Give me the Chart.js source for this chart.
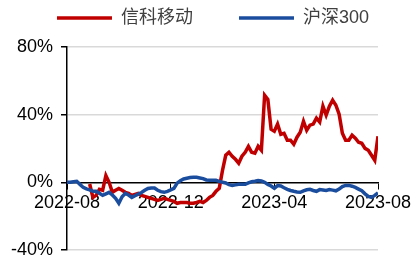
<!DOCTYPE html>
<html>
<head>
<meta charset="utf-8">
<script src="https://cdn.jsdelivr.net/npm/chart.js@4"></script>
<style>
html,body{margin:0;padding:0;background:#fff;}
#wrap{width:412px;height:256px;}
</style>
</head>
<body>
<div id="wrap"><canvas id="chart"></canvas></div>
<script>
// x runs in months from 2022-08, one point every 1/8 month
let tickLabels = ["2022-08", "2022-12", "2023-04", "2023-08"];
let seriesNames = ["信科移动", "沪深300"];

let xinke = [
    null, null, null, null, null, null, null,
    -1.0, -8.9, -7.7,
    -4.1, -4.7, 4.0, 0, -5.9, -4.7, -3.6, -4.7, -5.9, -6.5,
    -7.7, -7.1, -6.5, -7.7, -8.3, -8.9, -9.5, -10.1, -10.7, -10.1,
    -9.5, -10.1, -10.7, -11.3, -12.4, -11.9, -11.9, -11.9, -12.4, -12.4,
    -11.9, -11.3, -11.9, -10.7, -8.9, -7.7, -5.3, -3.6, 7.1, 16.0,
    17.8, 15.4, 13.6, 11.3, 15.4, 17.8, 21.3, 17.8, 17.2, 21.3,
    19.0, 51.5, 49.0, 31.4, 30.2, 34.4, 28.4, 29.0, 24.9, 24.9,
    22.5, 26.7, 29.6, 36.1, 30.8, 33.8, 34.4, 37.9, 35.6, 45.0,
    39.7, 45.0, 48.6, 45.6, 40.3, 29.0, 24.9, 24.9, 27.9, 26.1,
    23.7, 23.1, 20.1, 19.0, 16.0, 13.0, 27.3
];

let hs300 = [
    0, 0, 0.3, 0.6, -1.2, -3.0, -3.9, -4.5, -5.3, -5.3,
    -6.5, -7.7, -6.8, -5.9, -7.5, -9.5, -12.4, -8.5, -6.5, -7.5,
    -8.9, -7.9, -7.0, -6.0, -4.7, -3.6, -3.3, -3.4, -4.7, -5.5,
    -5.9, -5.3, -4.5, -3.6, -0.5, 1.0, 2.0, 2.4, 2.8, 3.0,
    3.0, 2.6, 2.2, 1.4, 1.2, 1.2, 1.2, 0.6, 0, -0.4,
    -1.4, -1.8, -1.5, -1.2, -1.2, -1.2, -0.3, 0.3, 0.6, 1.0,
    0.8, 0, -1.2, -2.2, -3.5, -1.9, -2.2, -3.2, -4.1, -4.8,
    -5.3, -5.7, -5.9, -5.0, -4.4, -4.1, -4.8, -5.3, -4.3, -4.5,
    -4.8, -4.3, -4.6, -5.0, -4.0, -2.5, -1.8, -1.8, -2.3, -3.0,
    -4.0, -5.0, -6.8, -8.3, -8.9, -7.7, -6.2
];

let step = 1 / 8;
let fontFamily = "'Liberation Sans', 'Noto Sans CJK SC', sans-serif";

function toPoints(values){
    return values.map(function(v, i){
        return {x: i * step, y: v};
    });
}

// legend keeps a fixed band above the plot and is nudged into place
const legendPlace = {
    id: "legendPlace",
    afterInit(chart){
        const legend = chart.legend;
        const fit = legend.fit;
        legend.fit = function(){
            fit.call(this);
            this.height = 47;
        };
        const draw = legend.draw;
        legend.draw = function(){
            const box = {left: this.left, right: this.right, top: this.top};
            this.left += 7;
            this.right += 7;
            this.top -= 37;
            draw.call(this);
            Object.assign(this, box);
        };
    }
};

new Chart(document.getElementById("chart"), {
    type: "line",
    data: {
        datasets: [
            {
                label: seriesNames[0],
                data: toPoints(xinke),
                borderColor: "#c00000",
                backgroundColor: "#c00000",
                borderWidth: 3.5,
                pointRadius: 0,
                tension: 0,
                order: 2
            },
            {
                label: seriesNames[1],
                data: toPoints(hs300),
                borderColor: "#1b4d9e",
                backgroundColor: "#1b4d9e",
                borderWidth: 3.5,
                pointRadius: 0,
                tension: 0,
                order: 1
            }
        ]
    },
    options: {
        responsive: true,
        maintainAspectRatio: false,
        animation: false,
        layout: {
            autoPadding: false,
            padding: {top: 0, left: 0, right: 0, bottom: 6}
        },
        plugins: {
            tooltip: {enabled: false},
            legend: {
                position: "top",
                labels: {
                    usePointStyle: true,
                    pointStyle: "line",
                    pointStyleWidth: 55,
                    padding: 46,
                    color: "#404040",
                    font: {family: fontFamily, size: 18},
                    sort: function(a, b){ return a.datasetIndex - b.datasetIndex; }
                }
            }
        },
        scales: {
            x: {
                type: "linear",
                position: {y: 0},
                min: 0,
                max: 12,
                afterFit: function(s){ s.paddingLeft = 0; s.paddingRight = 0; },
                ticks: {
                    stepSize: 4,
                    autoSkip: false,
                    maxRotation: 0,
                    padding: 4,
                    color: "#000",
                    font: {family: fontFamily, size: 18},
                    callback: function(v){ return tickLabels[v / 4]; }
                },
                grid: {drawOnChartArea: false, drawTicks: true, tickLength: 6, tickColor: "#000"},
                border: {color: "#000", width: 1.5}
            },
            y: {
                min: -40,
                max: 80,
                afterFit: function(s){ s.width = 67; s.paddingTop = 0; s.paddingBottom = 0; },
                ticks: {
                    stepSize: 40,
                    padding: 8,
                    color: "#000",
                    font: {family: fontFamily, size: 18},
                    callback: function(v){ return v + "%"; }
                },
                grid: {
                    color: function(c){ return c.tick && c.tick.value === 0 ? "rgba(0,0,0,0)" : "#d9d9d9"; },
                    lineWidth: 1.5,
                    tickLength: 6,
                    tickColor: "#000"
                },
                border: {color: "#000", width: 1.5}
            },
            // empty right-hand band so the last date label fits
            yRight: {
                type: "linear",
                position: "right",
                afterFit: function(s){ s.width = 34; s.paddingTop = 0; s.paddingBottom = 0; },
                ticks: {display: false},
                grid: {display: false},
                border: {display: false}
            }
        }
    },
    plugins: [legendPlace]
});
</script>
</body>
</html>
